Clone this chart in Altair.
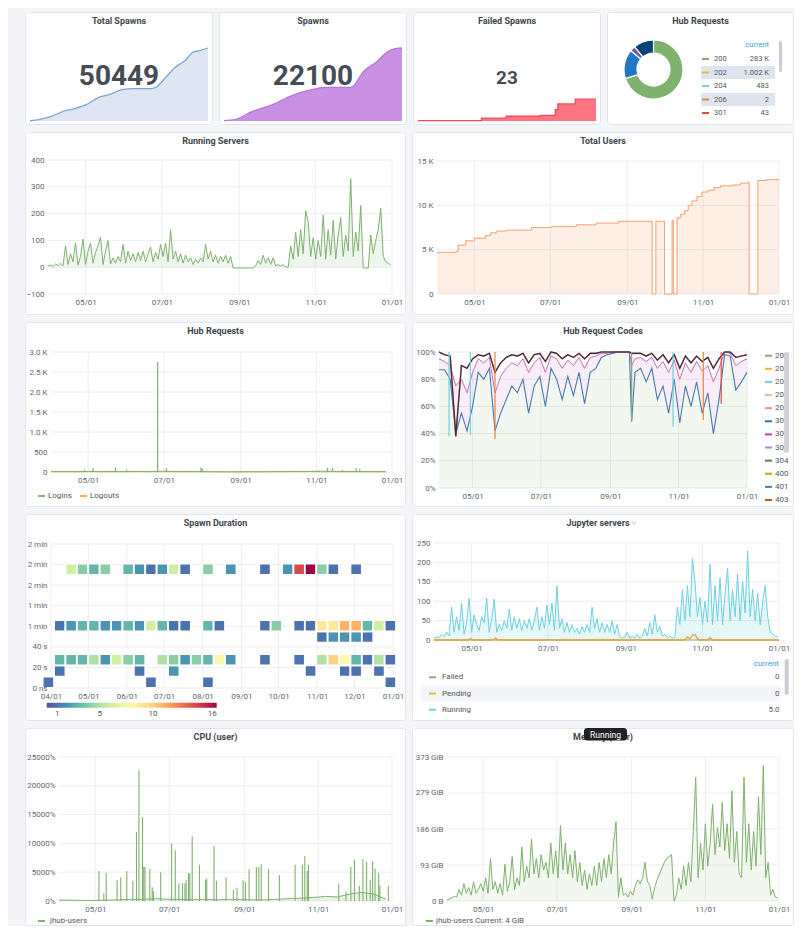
import altair as alt
import pandas as pd

FONT = "Roboto"
BG = "#f4f5f8"
BORDER = "#e2e5e9"
GRID = "#eceef1"
LABEL = "#61666e"
TITLE_C = "#41464d"
TEXT_C = "#52575e"
GREEN = "#7eb26d"

# ------------------------------------------------------------------ data
total_spawn_dates = ["2019-04-01", "2019-04-16", "2019-05-06", "2019-05-22", "2019-06-06", "2019-06-27",
                     "2019-07-17", "2019-08-01", "2019-08-21", "2019-09-06", "2019-10-06", "2019-10-14",
                     "2019-10-27", "2019-11-11", "2019-11-26", "2019-12-09", "2019-12-19", "2020-01-01"]
total_spawn_vals = [20100, 20700, 22100, 24000, 25000, 26800, 30000, 31000, 33100, 33500, 33500, 34300,
                    38000, 42300, 45100, 48700, 49400, 50449]

spawn_dates = ["2019-04-01", "2019-04-03", "2019-04-19", "2019-05-14", "2019-06-14", "2019-07-14",
               "2019-08-14", "2019-09-03", "2019-10-14", "2019-11-03", "2019-11-24", "2019-12-09",
               "2019-12-22", "2020-01-01"]
spawn_vals = [4050, 4100, 4400, 6300, 8000, 10250, 11760, 12340, 12340, 16340, 18840, 21100, 21950, 22100]

failed_dates = ["2019-04-01", "2019-07-08", "2019-08-15", "2019-10-07", "2019-10-30", "2019-11-03",
                "2019-11-30", "2020-01-01"]
failed_vals = [0.5, 3, 5, 6, 12, 18, 23, 23]

pie_codes = ["200", "302", "304", "404"]
pie_vals = [70, 16, 3, 11]
pie_colors = ["#7eb26d", "#1f78c1", "#705da0", "#0a437c"]
pie_leg_codes = ["200", "202", "204", "206", "301"]
pie_leg_vals = ["283 K", "1.002 K", "483", "2", "43"]
pie_leg_colors = ["#7eb26d", "#eab839", "#6ed0e0", "#ef843c", "#e24d42"]

# 2-day series, 2019-04-01 .. 2019-12-31
running_servers = [
    5, 8, 3, 12, 6, 15, 5, 80, 10, 50, 20, 90, 8, 40, 105,
    10, 60, 90, 15, 55, 80, 112, 10, 60, 100, 12, 35, 15, 40, 20,
    85, 15, 60, 25, 50, 20, 55, 25, 60, 20, 50, 75, 20, 55, 30, 85,
    40, 90, 20, 140, 30, 60, 20, 50, 15, 45, 20, 35, 10, 30, 15,
    35, 20, 85, 30, 60, 20, 45, 15, 40, 20, 45, 15, 40, -3, -3, -3,
    -3, -3, -3, -3, -3, -3, 5, 25, 10, 45, 15, 35, 10, 35, 5,
    10, 3, 10, 0, 0, 80, 30, 130, 40, 140, 50, 210, 170, 40, 110,
    30, 100, 40, 195, 30, 140, 45, 175, 30, 120, 185, 40, 120, 60, 330,
    40, 130, 60, 230, -3, -3, -3, 120, 50, 100, 140, 220, 40, 20, 15, 8]

jupyter_running = [
    5, 8, 6, 15, 8, 20, 10, 85, 20, 60, 25, 95, 15, 45, 108,
    20, 65, 40, 25, 60, 45, 108, 20, 55, 105, 20, 40, 25, 50, 30,
    80, 25, 60, 30, 55, 25, 50, 30, 55, 25, 50, 85, 25, 60, 30, 90,
    40, 95, 25, 140, 30, 55, 20, 45, 20, 40, 20, 30, 15, 35, 20,
    40, 20, 85, 30, 55, 20, 45, 20, 40, 20, 50, 15, 40, 10, 5, 8,
    20, 5, 10, 5, 15, 5, 10, 30, 10, 45, 15, 65, 20, 35, 10,
    15, 5, 10, 5, 8, 85, 40, 130, 50, 140, 60, 210, 150, 60, 110,
    40, 100, 45, 195, 40, 140, 50, 160, 40, 120, 185, 50, 130, 60, 170,
    50, 150, 70, 230, 60, 130, 50, 120, 40, 100, 140, 60, 20, 15, 10, 8]

memory_gib = [
    2, 5, 8, 12, 10, 30, 15, 45, 20, 35, 15, 50, 20, 30, 45,
    25, 60, 20, 110, 30, 50, 20, 45, 15, 95, 25, 50, 115, 30, 60,
    40, 140, 50, 90, 60, 160, 70, 110, 60, 120, 80, 100, 60, 150, 70, 130,
    60, 195, 80, 150, 70, 120, 60, 130, 50, 100, 40, 80, 30, 70, 40,
    90, 40, 100, 50, 110, 60, 120, 70, 150, 205, 10, 60, 15, 20, 10, 25,
    15, 40, 55, 45, 60, 100, 50, 40, 5, 35, 55, 70, 85, 100, 110,
    115, 120, 0, 15, 60, 30, 90, 40, 100, 50, 180, 320, 60, 150, 80,
    200, 90, 150, 250, 120, 190, 140, 255, 130, 200, 110, 285, 100, 180, 70,
    60, 320, 100, 200, 80, 180, 90, 270, 120, 350, 60, 100, 15, 30, 10, 8]

users_dates = ["2019-04-01", "2019-04-16", "2019-04-18", "2019-04-24", "2019-05-01", "2019-05-10",
               "2019-05-14", "2019-05-19", "2019-05-27", "2019-06-16", "2019-07-02", "2019-07-22",
               "2019-08-07", "2019-08-25", "2019-09-21", "2019-09-24", "2019-10-01", "2019-10-07",
               "2019-10-08", "2019-10-11", "2019-10-14", "2019-10-17", "2019-10-20", "2019-10-23",
               "2019-10-27", "2019-10-31", "2019-11-05", "2019-11-10", "2019-11-15", "2019-11-25",
               "2019-12-01", "2019-12-07", "2019-12-08", "2019-12-15", "2019-12-22", "2020-01-01"]
users_vals = [4700, 4800, 5500, 6000, 6300, 6600, 6900, 7100, 7200, 7500, 7600, 7800,
              8000, 8200, 0, 8200, 0, 8300, 0, 8600, 9000, 9400, 10000, 10500,
              11000, 11500, 11700, 12000, 12200, 12300, 12500, 12600, 0, 12800, 12900, 12900]

login_base = [10, 12, 8, 15, 10, 12, 10, 15, 10, 20, 15, 12, 10, 8, 5, 5, 8, 5, 10, 12, 15, 15, 20, 15, 12, 10, 10, 8]
logout_base = [4, 5, 4, 6, 5, 5, 4, 6, 5, 5, 4, 5, 4, 3, 3, 3, 4, 8, 6, 5, 5, 6, 5, 5, 4, 4, 5, 4]
login_spike_dates = ["2019-04-28", "2019-05-05", "2019-05-23", "2019-06-01", "2019-06-26", "2019-07-03",
                     "2019-07-31", "2019-08-01", "2019-09-24", "2019-11-03", "2019-11-10", "2019-11-14",
                     "2019-11-22", "2019-12-03", "2019-12-06"]
login_spike_vals = [60, 100, 110, 60, 2750, 100, 110, 90, 25, 30, 100, 100, 50, 100, 80]

codes_day = [0, 5, 10, 15, 20, 25, 30, 35, 40, 45, 50, 55, 60, 65, 70, 75, 80, 85, 90, 95, 100, 105, 110,
             115, 120, 125, 130, 135, 140, 145, 150, 155, 160, 165, 170, 172, 175, 180, 185, 190, 195, 200,
             205, 210, 215, 220, 225, 230, 235, 240, 245, 250, 255, 260, 265, 270, 275]
codes_ok = [87, 87, 80, 40, 55, 42, 60, 85, 80, 88, 42, 55, 65, 75, 70, 80, 55, 75, 82, 60, 88, 80, 65,
            82, 68, 85, 62, 85, 88, 96, 98, 99, 100, 100, 100, 49, 85, 88, 78, 88, 65, 75, 55, 80, 48,
            75, 60, 78, 55, 70, 40, 65, 98, 97, 72, 78, 85]
codes_redirect = [95, 93, 90, 75, 80, 70, 85, 95, 92, 96, 70, 82, 88, 92, 90, 95, 85, 92, 96, 85, 97, 95,
                  88, 94, 90, 96, 88, 96, 97, 99, 99, 100, 100, 100, 100, 90, 95, 96, 93, 96, 88, 93, 85,
                  94, 80, 92, 85, 93, 86, 90, 78, 88, 100, 99, 90, 93, 95]
codes_top = [100, 98, 97, 38, 90, 88, 95, 98, 97, 99, 85, 92, 96, 98, 97, 99, 92, 98, 99, 93, 100, 99, 95,
             98, 96, 99, 95, 99, 99, 100, 100, 100, 100, 100, 100, 99, 99, 99, 97, 99, 94, 98, 92, 98, 88,
             97, 92, 97, 93, 96, 88, 95, 100, 100, 96, 97, 98]
codes_spike_day = [9, 28, 50, 172, 209, 236, 252]
codes_spike_low = [38, 39, 36, 50, 45, 50, 62]
codes_spike_col = ["#6ed0e0", "#6ed0e0", "#ef843c", "#7eb26d", "#6ed0e0", "#ef843c", "#e24d42"]
code_names = ["200", "201", "202", "204", "206", "301", "302", "303", "304", "400", "401", "403"]
code_colors = ["#7eb26d", "#eab839", "#6ed0e0", "#f4b08a", "#ec8f89", "#1f78c1", "#ba43a9", "#9d8fc4",
               "#508642", "#cca300", "#447ebc", "#c15c17"]

hm_rows = [0, 1, 2, 4, 5, 10]
hm_cols = {
    10: [2, 3, 4, 5, 7, 8, 9, 10, 11, 12, 14, 16, 19, 21, 22, 23, 24, 25, 27],
    5: [1, 2, 3, 4, 5, 6, 7, 8, 9, 10, 11, 12, 14, 15, 19, 20, 22, 23, 24, 25, 26, 27, 28, 29, 30],
    4: [24, 25, 26, 27, 28],
    2: [1, 2, 3, 4, 5, 6, 7, 8, 10, 11, 12, 13, 14, 15, 16, 19, 22, 24, 25, 26, 27, 28, 29, 30],
    1: [1, 8, 11, 23, 26, 27, 29],
    0: [0, 9, 14, 30],
}
hm_counts = {
    10: [6, 4, 3, 4, 3, 2, 1, 2, 6, 1, 4, 2, 1, 2, 14, 16, 4, 1, 1],
    5: [1, 2, 3, 3, 2, 2, 3, 2, 6, 3, 1, 1, 3, 1, 1, 4, 1, 1, 9, 9, 11, 11, 3, 6, 1],
    4: [1, 2, 2, 2, 1],
    2: [3, 3, 3, 5, 2, 6, 4, 3, 5, 4, 2, 4, 3, 8, 2, 1, 1, 5, 10, 8, 3, 1, 5, 1],
    1: [1, 1, 2, 1, 1, 1, 1],
    0: [1, 1, 1, 1],
}
HM_ORIGIN = pd.Timestamp("2019-03-25 07:00")
HM_STEP = pd.Timedelta(hours=220)
HM_ROW_S = 11

pend_dates = ["2019-04-01", "2019-04-28", "2019-04-30", "2019-05-02", "2019-05-18", "2019-05-20",
              "2019-05-22", "2019-10-18", "2019-10-20", "2019-10-22", "2019-10-24", "2019-10-26",
              "2019-10-28", "2019-10-30", "2019-11-05", "2019-11-07", "2019-11-09", "2020-01-01"]
pend_vals = [0, 0, 4, 0, 0, 5, 0, 0, 8, 3, 12, 14, 4, 0, 0, 6, 0, 0]
jup_leg_names = ["Failed", "Pending", "Running"]
jup_leg_vals = ["0", "0", "5.0"]
jup_leg_colors = ["#7eb26d", "#eab839", "#6ed0e0"]

cpu_base = [150, 150, 100, 100, 150, 200, 300, 300, 400, 300, 300, 200, 300, 200, 300, 250, 200, 200,
            300, 400, 500, 600, 800, 700, 1200, 1500, 1200, 300]
cpu_spike_dates = ["2019-05-04", "2019-05-08", "2019-05-10", "2019-05-19", "2019-05-22", "2019-05-27",
                   "2019-06-01", "2019-06-04", "2019-06-06", "2019-06-09", "2019-06-10", "2019-06-11",
                   "2019-06-15", "2019-06-17", "2019-06-18", "2019-06-24", "2019-07-03", "2019-07-06",
                   "2019-07-09", "2019-07-12", "2019-07-14", "2019-07-15", "2019-07-17", "2019-07-18",
                   "2019-07-20", "2019-07-26", "2019-07-31", "2019-08-01", "2019-08-07", "2019-08-09",
                   "2019-08-17", "2019-08-23", "2019-08-26", "2019-08-31", "2019-09-02", "2019-09-05",
                   "2019-09-11", "2019-09-13", "2019-09-15", "2019-09-21", "2019-09-30", "2019-10-13",
                   "2019-10-19", "2019-10-21", "2019-10-23", "2019-10-24", "2019-11-18", "2019-11-24",
                   "2019-11-28", "2019-12-01", "2019-12-05", "2019-12-08", "2019-12-11", "2019-12-14",
                   "2019-12-16", "2019-12-18", "2019-12-21", "2019-12-22", "2019-12-29"]
cpu_spike_vals = [5200, 1300, 4900, 3600, 4100, 5200, 3500, 12000, 22700, 14600, 5900, 5900,
                  5600, 2400, 1700, 5000, 10000, 8800, 3100, 3100, 3100, 3600, 4800, 4800,
                  11200, 6300, 3700, 3900, 9600, 3500, 4100, 1900, 2300, 3600, 3300, 5500,
                  5900, 5900, 6400, 5600, 4500, 6300, 6300, 7800, 5200, 6300, 3000, 1600,
                  5900, 7200, 2600, 7300, 6800, 3700, 6900, 5600, 4900, 2700, 2600]

# ------------------------------------------------------------------ helpers
ONE = pd.DataFrame({"k": [0]})
T0 = pd.Timestamp("2019-04-01")
DATES2 = pd.date_range("2019-04-01", periods=138, freq="2D")
DATES10 = pd.date_range("2019-04-01", periods=28, freq="10D")


def DT(y, m, d):
    return alt.DateTime(year=y, month=m, date=d)


XDOM = [DT(2019, 4, 1), DT(2020, 1, 1)]
TICKS2 = [DT(2019, 5, 1), DT(2019, 7, 1), DT(2019, 9, 1), DT(2019, 11, 1), DT(2020, 1, 1)]
TICKS1 = [DT(2019, m, 1) for m in range(4, 13)] + [DT(2020, 1, 1)]
GRID2 = pd.to_datetime(["2019-05-01", "2019-07-01", "2019-09-01", "2019-11-01", "2020-01-01"])
GRID1 = pd.to_datetime([f"2019-{m:02d}-01" for m in range(4, 13)] + ["2020-01-01"])

LW = 381   # left-column panel width
RW = 382   # right-column panel width


class G:
    """panel geometry: panel size, plot offset and plot size (pixels)."""

    def __init__(self, pw, ph, pl, pt, w, h):
        self.pw, self.ph, self.pl, self.pt, self.w, self.h = pw, ph, pl, pt, w, h


def X(g, field="date", ticks=TICKS2, clamp=False, axis=True):
    ax = None
    if axis:
        ax = alt.Axis(values=ticks, format="%m/%d", labelFlush=False, labelPadding=4,
                      offset=-(g.ph - g.pt - g.h), zindex=1)
    return alt.X(field, type="temporal", title=None,
                 scale=alt.Scale(domain=XDOM, range=[g.pl, g.pl + g.w], nice=False, clamp=clamp), axis=ax)


def Y(g, field, ycfg, axis=True):
    dom, ticks, expr = ycfg
    ax = None
    if axis:
        kw = dict(values=ticks, labelPadding=4, offset=-g.pl, zindex=1)
        if expr:
            kw["labelExpr"] = expr
        ax = alt.Axis(**kw)
    return alt.Y(field, type="quantitative", title=None, stack=None,
                 scale=alt.Scale(domain=dom, range=[g.pt + g.h, g.pt], nice=False, zero=False), axis=ax)


def vgrid(g, dates, ticks=TICKS2):
    return alt.Chart(pd.DataFrame({"date": dates})).mark_rule(color=GRID, strokeWidth=1).encode(
        x=X(g, "date", ticks), y=alt.value(g.pt), y2=alt.value(g.pt + g.h))


def hgrid(g, ycfg, axis=True):
    return alt.Chart(pd.DataFrame({"v": ycfg[1]})).mark_rule(color=GRID, strokeWidth=1).encode(
        y=Y(g, "v", ycfg, axis), x=alt.value(g.pl), x2=alt.value(g.pl + g.w))


def txt(s, x, y, size=8, color=TEXT_C, align="left", weight="normal"):
    return alt.Chart(ONE).mark_text(text=s, font=FONT, fontSize=size, color=color, align=align,
                                    baseline="middle", fontWeight=weight).encode(
        x=alt.value(x), y=alt.value(y))


def swatch(color, x, y, length=7):
    return alt.Chart(ONE).mark_rule(color=color, strokeWidth=2).encode(
        x=alt.value(x), x2=alt.value(x + length), y=alt.value(y))


def box(color, x, x2, y, y2, radius=0):
    return alt.Chart(ONE).mark_rect(color=color, cornerRadius=radius).encode(
        x=alt.value(x), x2=alt.value(x2), y=alt.value(y), y2=alt.value(y2))


def panel(g, title, layers, title_dx=0):
    bg = alt.Chart(ONE).mark_rect(fill="white", stroke=BORDER, strokeWidth=1, cornerRadius=3).encode(
        x=alt.value(0.5), x2=alt.value(g.pw - 0.5), y=alt.value(0.5), y2=alt.value(g.ph - 0.5))
    tt = txt(title, g.pw / 2 + title_dx, 9, size=9, color=TITLE_C, align="center", weight="bold")
    return alt.layer(bg, tt, *layers).properties(width=g.pw, height=g.ph)


def series_layers(g, df, ycfg, color, fill_op=0.13, interp="linear", axis=True):
    y = Y(g, "v", ycfg, axis)
    area = alt.Chart(df).mark_area(color=color, fillOpacity=fill_op, interpolate=interp).encode(
        x=X(g), y=y, y2=alt.datum(0))
    line = alt.Chart(df).mark_line(color=color, strokeWidth=1, interpolate=interp).encode(x=X(g), y=y)
    return [area, line]


# ------------------------------------------------------------------ row 1
def spark(title, dates, vals, dom, line_c, fill_c, number, nsize, interp, pw, ny=65):
    g = G(pw, 113, 5, 36, pw - 10, 73)
    df = pd.DataFrame({"date": pd.to_datetime(dates), "v": vals})
    x = X(g, axis=False)
    y = alt.Y("v:Q", title=None, axis=None, stack=None,
              scale=alt.Scale(domain=dom, range=[g.pt + g.h, g.pt], nice=False, zero=False))
    area = alt.Chart(df).mark_area(color=fill_c, interpolate=interp).encode(
        x=x, y=y, y2=alt.datum(dom[0]))
    line = alt.Chart(df).mark_line(color=line_c, strokeWidth=1.3, interpolate=interp).encode(x=x, y=y)
    num = alt.Chart(ONE).mark_text(text=number, font=FONT, fontSize=nsize, fontWeight="bold",
                                   color="#464c54", baseline="middle", align="center").encode(
        x=alt.value(pw / 2), y=alt.value(ny))
    return panel(g, title, [area, line, num])


p_total = spark("Total Spawns", total_spawn_dates, total_spawn_vals, [20000, 50449], "#7ea6d3", "#dde6f2",
                "50449", 28, "monotone", 188)
p_spawn = spark("Spawns", spawn_dates, spawn_vals, [4000, 22100], "#b877d9", "#c990e4",
                "22100", 28, "monotone", 188)
p_failed = spark("Failed Spawns", failed_dates, failed_vals, [0, 77], "#f2495c", "#ff7383",
                 "23", 19, "step-after", 188, ny=66)

g_pie = G(187, 113, 0, 0, 187, 113)
pie_df = pd.DataFrame({"code": pie_codes, "share": pie_vals, "ord": list(range(len(pie_codes)))})
arc = alt.Chart(pie_df).mark_arc(innerRadius=16.5, outerRadius=29.5, stroke="white", strokeWidth=1.2).encode(
    theta=alt.Theta("share:Q", stack=True),
    color=alt.Color("code:N", scale=alt.Scale(domain=pie_codes, range=pie_colors), legend=None),
    order=alt.Order("ord:Q"),
    x=alt.value(46.5), y=alt.value(57.5))
pl_df = pd.DataFrame({"row": list(range(5)), "code": pie_leg_codes, "val": pie_leg_vals,
                      "col": pie_leg_colors, "hl": [0, 1, 0, 1, 0]})
RS1 = alt.Scale(domain=[0, 4], range=[47, 101])
pie_band = alt.Chart(pl_df).transform_filter("datum.hl == 1").transform_calculate(
    lo="datum.row - 0.48", hi="datum.row + 0.48").mark_rect(color="#dfe5ee").encode(
    x=alt.value(94), x2=alt.value(168), y=alt.Y("lo:Q", scale=RS1, axis=None, title=None), y2="hi:Q")
pie_sw = alt.Chart(pl_df).mark_rule(strokeWidth=2).encode(
    x=alt.value(95), x2=alt.value(102), y=alt.Y("row:Q", scale=RS1, axis=None, title=None),
    color=alt.Color("col:N", scale=None))
pie_code = alt.Chart(pl_df).mark_text(align="left", baseline="middle", font=FONT, fontSize=7.5,
                                      color=TEXT_C).encode(
    x=alt.value(107), y=alt.Y("row:Q", scale=RS1, axis=None, title=None), text="code:N")
pie_val = alt.Chart(pl_df).mark_text(align="right", baseline="middle", font=FONT, fontSize=7.5,
                                     color=TEXT_C).encode(
    x=alt.value(162), y=alt.Y("row:Q", scale=RS1, axis=None, title=None), text="val:N")
p_pie = panel(g_pie, "Hub Requests", [
    arc, pie_band, pie_sw, pie_code, pie_val,
    txt("current", 162, 33, size=7.5, color="#33a2e5", align="right"),
    box("#c9cdd3", 172, 175, 29, 60, 1.5)])

row1 = alt.hconcat(p_total, p_spawn, p_failed, p_pie, spacing=6).resolve_scale(color="independent")

# ------------------------------------------------------------------ row 2
g_rs = G(LW, 183, 23, 28, LW - 37, 134)
RS_Y = ([-100, 400], [-100, 0, 100, 200, 300, 400], None)
rs_df = pd.DataFrame({"date": DATES2, "v": running_servers})
p_running = panel(g_rs, "Running Servers",
                  [vgrid(g_rs, GRID2), hgrid(g_rs, RS_Y)] + series_layers(g_rs, rs_df, RS_Y, GREEN, 0.12))

g_us = G(RW, 183, 25, 29, RW - 40, 133)
US_Y = ([0, 15000], [0, 5000, 10000, 15000], "datum.value == 0 ? '0' : (datum.value / 1000) + ' K'")
us_df = pd.DataFrame({"date": pd.to_datetime(users_dates), "v": users_vals})
p_users = panel(g_us, "Total Users",
                [vgrid(g_us, GRID2), hgrid(g_us, US_Y)] +
                series_layers(g_us, us_df, US_Y, "#f7a06a", 0.17, "step-after"))

row2 = alt.hconcat(p_running, p_users, spacing=6)

# ------------------------------------------------------------------ row 3
g_hr = G(LW, 185, 26, 30, LW - 40, 120)
HR_Y = ([0, 3000], [0, 500, 1000, 1500, 2000, 2500, 3000],
        "datum.value == 0 ? '0' : datum.value < 1000 ? datum.value : format(datum.value / 1000, '.1f') + ' K'")
base_df = pd.DataFrame({"date": DATES10, "login": login_base, "logout": logout_base})
logout_line = alt.Chart(base_df).mark_line(color="#eab839", strokeWidth=1).encode(
    x=X(g_hr), y=Y(g_hr, "logout", HR_Y))
login_line = alt.Chart(base_df).mark_line(color=GREEN, strokeWidth=1).encode(
    x=X(g_hr), y=Y(g_hr, "login", HR_Y))
sp_df = pd.DataFrame({"date": pd.to_datetime(login_spike_dates), "v": login_spike_vals})
login_spikes = alt.Chart(sp_df).mark_rule(color=GREEN, strokeWidth=1.2).encode(
    x=X(g_hr), y=Y(g_hr, "v", HR_Y), y2=alt.datum(0))
p_hubreq = panel(g_hr, "Hub Requests", [
    vgrid(g_hr, GRID2), hgrid(g_hr, HR_Y), logout_line, login_line, login_spikes,
    swatch(GREEN, 13, 174), txt("Logins", 23, 174),
    swatch("#eab839", 55, 174), txt("Logouts", 65, 174)])

g_hc = G(RW, 185, 27, 30, RW - 74, 136)
HC_Y = ([0, 100], [0, 20, 40, 60, 80, 100], "datum.value + '%'")
hc_df = pd.DataFrame({"date": [T0 + pd.Timedelta(days=d) for d in codes_day],
                      "ok": codes_ok, "redir": codes_redirect, "top": codes_top})
hc_green = alt.Chart(hc_df).mark_area(color="#7eb26d", fillOpacity=0.1).encode(
    x=X(g_hc), y=Y(g_hc, "ok", HC_Y, False), y2=alt.datum(0))
hc_pink = alt.Chart(hc_df).mark_area(color="#d683ce", fillOpacity=0.15).encode(
    x=X(g_hc), y=Y(g_hc, "ok", HC_Y, False), y2="redir:Q")
hc_l1 = alt.Chart(hc_df).mark_line(color="#4a78b0", strokeWidth=1.1).encode(
    x=X(g_hc), y=Y(g_hc, "ok", HC_Y, False))
hc_l2 = alt.Chart(hc_df).mark_line(color="#c25cb4", strokeWidth=0.9).encode(
    x=X(g_hc), y=Y(g_hc, "redir", HC_Y, False))
hc_l3 = alt.Chart(hc_df).mark_line(color="#c15c17", strokeWidth=1.6, opacity=0.8).encode(
    x=X(g_hc), y=Y(g_hc, "top", HC_Y, False))
hc_l4 = alt.Chart(hc_df).mark_line(color="#2f2a57", strokeWidth=1.1).encode(
    x=X(g_hc), y=Y(g_hc, "top", HC_Y, False))
hcs_df = pd.DataFrame({"date": [T0 + pd.Timedelta(days=d) for d in codes_spike_day],
                       "low": codes_spike_low, "col": codes_spike_col})
hc_spikes = alt.Chart(hcs_df).mark_rule(strokeWidth=1.2).encode(
    x=X(g_hc), y=Y(g_hc, "low", HC_Y, False), y2=alt.datum(100), color=alt.Color("col:N", scale=None))
cl_df = pd.DataFrame({"row": list(range(len(code_names))), "code": code_names, "col": code_colors})
RS3 = alt.Scale(domain=[0, 11], range=[33.7, 178])
cl_sw = alt.Chart(cl_df).mark_rule(strokeWidth=2).encode(
    x=alt.value(RW - 29), x2=alt.value(RW - 22), y=alt.Y("row:Q", scale=RS3, axis=None, title=None),
    color=alt.Color("col:N", scale=None))
cl_tx = alt.Chart(cl_df).mark_text(align="left", baseline="middle", font=FONT, fontSize=8,
                                   color=TEXT_C).encode(
    x=alt.value(RW - 19), y=alt.Y("row:Q", scale=RS3, axis=None, title=None), text="code:N")
p_codes = panel(g_hc, "Hub Request Codes", [
    vgrid(g_hc, GRID2), hgrid(g_hc, HC_Y), hc_green, hc_pink, hc_l1, hc_l2, hc_l3, hc_l4, hc_spikes,
    cl_sw, cl_tx, box("#cfd3d8", RW - 10, RW - 5, 30, 131, 2)]).resolve_scale(y="independent")

row3 = alt.hconcat(p_hubreq, p_codes, spacing=6).resolve_scale(color="independent")

# ------------------------------------------------------------------ row 4
g_sd = G(LW, 207, 26, 30, LW - 39, 144)
cells = []
for r in hm_rows:
    for c, n in zip(hm_cols[r], hm_counts[r]):
        cells.append({"x0": HM_ORIGIN + c * HM_STEP, "x1": HM_ORIGIN + (c + 1) * HM_STEP,
                      "y0": r * HM_ROW_S, "y1": (r + 1) * HM_ROW_S, "n": n})
hm_df = pd.DataFrame(cells)
SD_Y = ([0, 140], [0, 20, 40, 60, 80, 100, 120, 140],
        "datum.value == 0 ? '0 ns' : datum.value < 60 ? datum.value + ' s' : datum.value < 90 ? '1 min' : '2 min'")
hm = alt.Chart(hm_df).mark_rect(stroke="white", strokeWidth=1.8).encode(
    x=X(g_sd, "x0", TICKS1, clamp=True), x2="x1:T", y=Y(g_sd, "y0", SD_Y), y2="y1:Q",
    color=alt.Color("n:Q", scale=alt.Scale(scheme="spectral", reverse=True, domain=[0, 16]),
                    legend=alt.Legend(orient="none", legendX=21.7, legendY=188.7, direction="horizontal",
                                      gradientLength=170, gradientThickness=5, values=[1, 5, 10, 16],
                                      title=None, labelFontSize=8, labelColor=TEXT_C, labelFont=FONT)))
p_spawndur = panel(g_sd, "Spawn Duration",
                   [vgrid(g_sd, GRID1, TICKS1), hgrid(g_sd, SD_Y), hm])

g_ju = G(RW, 207, 22, 29, RW - 37, 97)
JU_Y = ([0, 250], [0, 50, 100, 150, 200, 250], None)
ju_df = pd.DataFrame({"date": DATES2, "v": jupyter_running})
pe_df = pd.DataFrame({"date": pd.to_datetime(pend_dates), "v": pend_vals})
fa_df = pd.DataFrame({"date": pd.to_datetime(["2019-04-01", "2020-01-01"]), "v": [0, 0]})
ju_fail = alt.Chart(fa_df).mark_line(color="#7eb26d", strokeWidth=1).encode(
    x=X(g_ju), y=Y(g_ju, "v", JU_Y, False))
ju_pend = alt.Chart(pe_df).mark_line(color="#eda03a", strokeWidth=1.3).encode(
    x=X(g_ju), y=Y(g_ju, "v", JU_Y, False))
jl_df = pd.DataFrame({"row": [0, 1, 2], "name": jup_leg_names, "val": jup_leg_vals,
                      "col": jup_leg_colors, "hl": [0, 1, 0]})
RS4 = alt.Scale(domain=[0, 2], range=[163.3, 195.7])
jl_band = alt.Chart(jl_df).transform_filter("datum.hl == 1").transform_calculate(
    lo="datum.row - 0.49", hi="datum.row + 0.49").mark_rect(color="#f4f5f8").encode(
    x=alt.value(9), x2=alt.value(RW - 14), y=alt.Y("lo:Q", scale=RS4, axis=None, title=None), y2="hi:Q")
jl_sw = alt.Chart(jl_df).mark_rule(strokeWidth=2).encode(
    x=alt.value(17), x2=alt.value(24), y=alt.Y("row:Q", scale=RS4, axis=None, title=None),
    color=alt.Color("col:N", scale=None))
jl_name = alt.Chart(jl_df).mark_text(align="left", baseline="middle", font=FONT, fontSize=8,
                                     color=TEXT_C).encode(
    x=alt.value(30), y=alt.Y("row:Q", scale=RS4, axis=None, title=None), text="name:N")
jl_val = alt.Chart(jl_df).mark_text(align="right", baseline="middle", font=FONT, fontSize=8,
                                    color=TEXT_C).encode(
    x=alt.value(RW - 14.5), y=alt.Y("row:Q", scale=RS4, axis=None, title=None), text="val:N")
p_jup = panel(g_ju, "Jupyter servers", [
    txt("\u02c5", RW / 2 + 31, 10, size=8, color="#8e939a", align="center"),
    vgrid(g_ju, GRID2), hgrid(g_ju, JU_Y)] + series_layers(g_ju, ju_df, JU_Y, "#6ed0e0", 0.18, axis=False) + [
    ju_fail, ju_pend, jl_band, jl_sw, jl_name, jl_val,
    txt("current", RW - 15, 149.7, size=8, color="#33a2e5", align="right"),
    box("#c9cdd3", RW - 9.3, RW - 5.3, 145, 181, 2)], title_dx=-5).resolve_scale(y="independent")

row4 = alt.hconcat(p_spawndur, p_jup, spacing=6).resolve_scale(color="independent")

# ------------------------------------------------------------------ row 5
g_cpu = G(LW, 198, 34, 29, LW - 48, 144)
CPU_Y = ([0, 25000], [0, 5000, 10000, 15000, 20000, 25000], "datum.value + '%'")
cpu_df = pd.DataFrame({"date": DATES10, "v": cpu_base})
cs_df = pd.DataFrame({"date": pd.to_datetime(cpu_spike_dates), "v": cpu_spike_vals})
cpu_spikes = alt.Chart(cs_df).mark_rule(color=GREEN, strokeWidth=1.1).encode(
    x=X(g_cpu), y=Y(g_cpu, "v", CPU_Y), y2=alt.datum(0))
p_cpu = panel(g_cpu, "CPU (user)",
              [vgrid(g_cpu, GRID2), hgrid(g_cpu, CPU_Y)] + series_layers(g_cpu, cpu_df, CPU_Y, GREEN, 0.15) + [
                  cpu_spikes, swatch(GREEN, 13, 193), txt("jhub-users", 25, 193)])

g_mem = G(RW, 198, 35, 29, RW - 50, 144)
GIB_TICKS = [0, 93.13, 186.26, 279.4, 372.53]
MEM_Y = ([0, 372.53], GIB_TICKS, "datum.value == 0 ? '0 B' : format(datum.value, '.0f') + ' GiB'")
mem_df = pd.DataFrame({"date": DATES2, "v": memory_gib})
p_mem = panel(g_mem, "Memory (user)",
              [vgrid(g_mem, GRID2), hgrid(g_mem, MEM_Y)] + series_layers(g_mem, mem_df, MEM_Y, GREEN, 0.1) + [
                  swatch(GREEN, 14, 193), txt("jhub-users  Current: 4 GiB", 24, 193),
                  box("#1f2125", RW / 2 - 19, RW / 2 + 24, 0, 12.5, 3),
                  txt("Running", RW / 2 + 2.5, 6.5, size=8.5, color="white", align="center")])

row5 = alt.hconcat(p_cpu, p_mem, spacing=6)

chart = alt.vconcat(row1, row2, row3, row4, row5, spacing=7).resolve_scale(
    color="independent").properties(
    padding={"left": 17, "top": 4, "right": 0, "bottom": 0}).configure(
    background=BG, font=FONT).configure_view(stroke=None).configure_axis(
    grid=False, domain=False, ticks=False, labelColor=LABEL, labelFont=FONT, labelFontSize=8)

chart.save("out.html", embed_options={"renderer": "svg", "actions": False})
